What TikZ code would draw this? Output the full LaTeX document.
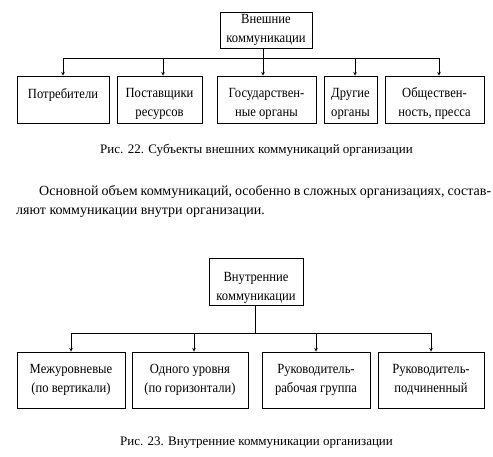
\documentclass[tikz,border=0pt]{standalone}
\usepackage{fontspec}
\setmainfont{Liberation Serif}
\newfontfamily\boxfont[FakeStretch=0.9]{Liberation Serif}
\usepackage{tikz}
% extra room above the first line of a box
\newcommand{\topgap}[1]{\rule{0pt}{#1}}

\begin{document}
\begin{tikzpicture}[x=1pt,y=-1pt,
  b/.style={draw,line width=0.7pt,align=center,inner sep=0pt,
            font=\boxfont\fontsize{14}{19}\selectfont},
  a/.style={->,>=stealth,line width=0.7pt},
  caption/.style={font=\fontsize{13}{15}\selectfont},
  txt/.style={anchor=west,inner sep=0pt,font=\fontsize{14}{16}\selectfont}
]
\useasboundingbox (0,0) rectangle (493,457);
% Fig. 22
\node[b,minimum width=92pt,minimum height=36pt] (ext) at (266,30) {Внешние\\коммуникации};
\node[b,minimum width=92pt,minimum height=47pt] (e1) at (63,99.5)    {\topgap{18pt}Потребители\\\mbox{}};
\node[b,minimum width=85pt,minimum height=47pt] (e2) at (159.5,99.5) {\topgap{18pt}Поставщики\\ресурсов};
\node[b,minimum width=99pt,minimum height=47pt] (e3) at (266.5,99.5) {\topgap{18pt}Государствен-\\ные органы};
\node[b,minimum width=53pt,minimum height=47pt] (e4) at (350.5,99.5) {\topgap{18pt}Другие\\органы};
\node[b,minimum width=99pt,minimum height=47pt] (e5) at (434.5,99.5) {\topgap{18pt}Обществен-\\ность, пресса};
\coordinate (ebus) at (0,58);
\draw[line width=0.7pt] ([xshift=-3pt]ext.south) -- ([xshift=-3pt]ext.south |- ebus);
\draw[line width=0.7pt] (ebus -| e1) -- ([xshift=4.5pt]ebus -| e5);
\draw[a](ebus -| e1)--(e1);
\draw[a]([xshift=3.5pt]ebus -| e2)--([xshift=3.5pt]e2.north);
\draw[a]([xshift=-3.5pt]ebus -| e3)--([xshift=-3.5pt]e3.north);
\draw[a]([xshift=4.5pt]ebus -| e4)--([xshift=4.5pt]e4.north);
\draw[a]([xshift=4.5pt]ebus -| e5)--([xshift=4.5pt]e5.north);
\node[caption] (cap1) at (256.5,150) {Рис. 22. Субъекты внешних коммуникаций организации};
% paragraph
\node[txt] (par1) at (39,192) {\makebox[452pt][s]{Основной объем коммуникаций, особенно в сложных организациях, состав-}};
\node[txt] (par2) at (16,213) {ляют коммуникации внутри организации.};
% Fig. 23
\node[b,minimum width=94pt,minimum height=47pt] (int) at (256,281.5) {\topgap{23pt}Внутренние\\коммуникации};
\node[b,minimum width=108pt,minimum height=56pt] (i1) at (71,380)  {Межуровневые\\(по вертикали)};
\node[b,minimum width=116pt,minimum height=56pt] (i2) at (190,380) {Одного уровня\\(по горизонтали)};
\node[b,minimum width=108pt,minimum height=56pt] (i3) at (316,380) {Руководитель-\\рабочая группа};
\node[b,minimum width=106pt,minimum height=56pt] (i4) at (431,380) {Руководитель-\\подчиненный};
\coordinate (ibus) at (0,333);
\draw[line width=0.7pt] ([xshift=-1pt]int.south) -- ([xshift=-1pt]int.south |- ibus);
\draw[line width=0.7pt] (ibus -| i1) -- (ibus -| i4);
\draw[a](ibus -| i1)--(i1);\draw[a]([xshift=4pt]ibus -| i2)--([xshift=4pt]i2.north);
\draw[a](ibus -| i3)--(i3);\draw[a](ibus -| i4)--(i4);
\node[caption] (cap2) at (256.5,443) {Рис. 23. Внутренние коммуникации организации};
\end{tikzpicture}
\end{document}
